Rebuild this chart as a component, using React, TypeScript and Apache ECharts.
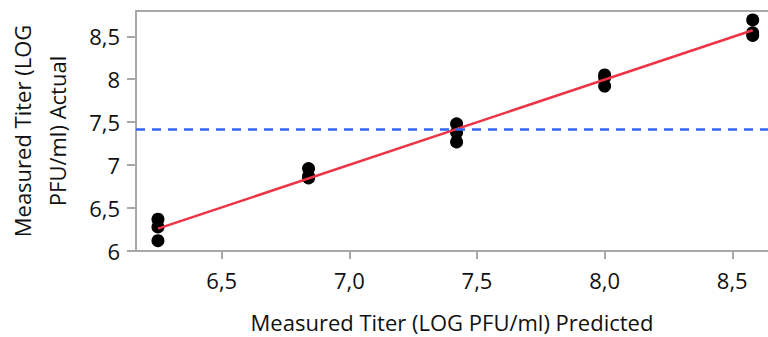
import React, { useEffect, useRef } from "react";
import * as echarts from "echarts";

// Predicted vs. actual titer (log PFU/ml), three replicates per level
const predicted = [6.25, 6.25, 6.25, 6.84, 6.84, 6.84, 7.42, 7.42, 7.42, 8.0, 8.0, 8.0, 8.58, 8.58, 8.58];
const actual = [6.37, 6.28, 6.12, 6.96, 6.85, 6.87, 7.48, 7.38, 7.27, 8.05, 7.92, 8.02, 8.69, 8.54, 8.51];

// Fitted line endpoints and mean of the actual values
const fitX = [6.25, 8.58];
const fitY = [6.26, 8.57];
const meanActual = 7.42;

const xTicks = [6.5, 7.0, 7.5, 8.0, 8.5];
const yTicks = [6, 6.5, 7, 7.5, 8, 8.5];

const FONT = "'Open Sans', 'Noto Sans', sans-serif";
const AXIS_GREY = "#a8a8a8";
const TEXT = "#111";

const fmtX = (v: number) => v.toFixed(1).replace(".", ",");
const fmtY = (v: number) => String(v).replace(".", ",");

export default function App() {
  const ref = useRef<HTMLDivElement>(null);

  useEffect(() => {
    if (!ref.current) return;
    const chart = echarts.init(ref.current, null, { renderer: "svg" });
    chart.setOption({
      animation: false,
      grid: {
        left: 136,
        right: 0,
        top: 11,
        bottom: 86,
        show: false,
        containLabel: false,
        outerBoundsMode: "none",
      },
      xAxis: [
        {
          type: "value",
          min: 6.164,
          max: 8.64,
          name: "Measured Titer (LOG PFU/ml) Predicted",
          nameLocation: "middle",
          nameGap: 58,
          nameTextStyle: { fontFamily: FONT, fontSize: 22, color: TEXT, lineHeight: 26 },
          splitLine: { show: false },
          axisLine: { show: true, lineStyle: { color: AXIS_GREY, width: 2 } },
          axisTick: {
            show: true,
            length: 8,
            lineStyle: { color: AXIS_GREY, width: 2 },
            customValues: xTicks,
          },
          axisLabel: {
            margin: 18,
            fontFamily: FONT,
            fontSize: 22,
            color: TEXT,
            customValues: xTicks,
            formatter: (v: number) => fmtX(v),
          },
        },
        {
          type: "value",
          position: "top",
          min: 6.164,
          max: 8.64,
          splitLine: { show: false },
          axisLine: { show: true, lineStyle: { color: AXIS_GREY, width: 2 } },
          axisTick: { show: false },
          axisLabel: { show: false },
        },
      ],
      yAxis: {
        type: "value",
        min: 6,
        max: 8.794,
        name: "Measured Titer (LOG\nPFU/ml) Actual",
        nameLocation: "middle",
        nameGap: 62,
        nameTextStyle: { fontFamily: FONT, fontSize: 22, color: TEXT, lineHeight: 35 },
        splitLine: { show: false },
        axisLine: { show: true, lineStyle: { color: AXIS_GREY, width: 2 } },
        axisTick: {
          show: true,
          length: 9,
          lineStyle: { color: AXIS_GREY, width: 2 },
          customValues: yTicks,
        },
        axisLabel: {
          margin: 16,
          fontFamily: FONT,
          fontSize: 22,
          color: TEXT,
          customValues: yTicks,
          formatter: (v: number) => fmtY(v),
        },
      },
      series: [
        {
          type: "line",
          data: fitX.map((x, i) => [x, fitY[i]]),
          symbol: "none",
          lineStyle: { color: "#ee3344", width: 2.5 },
          z: 3,
          markLine: {
            silent: true,
            symbol: "none",
            label: { show: false },
            lineStyle: { color: "#3366ee", width: 2.5, type: [9, 7] },
            data: [{ yAxis: meanActual }],
          },
        },
        {
          type: "scatter",
          data: predicted.map((x, i) => [x, actual[i]]),
          symbol: "circle",
          symbolSize: 13,
          itemStyle: { color: "#000", opacity: 1 },
          z: 2,
        },
      ],
    });
    return () => chart.dispose();
  }, []);

  return (
    <div
      ref={ref}
      style={{ position: "absolute", left: 0, top: 0, width: 768, height: 337 }}
    />
  );
}
